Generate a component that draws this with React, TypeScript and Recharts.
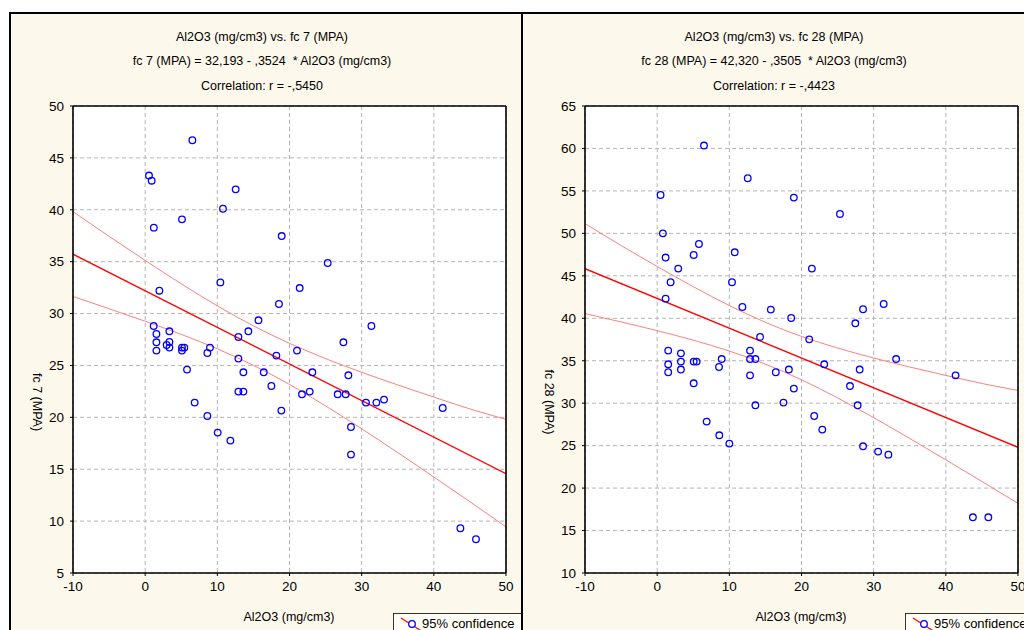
import React from 'react';
import { ComposedChart, XAxis, YAxis, CartesianGrid, Scatter, Line } from 'recharts';

const xTicks = [-10, 0, 10, 20, 30, 40, 50];
const fc7Ticks = [5, 10, 15, 20, 25, 30, 35, 40, 45, 50];
const fc28Ticks = [10, 15, 20, 25, 30, 35, 40, 45, 50, 55, 60, 65];

const al2o3Fc7 = [0.53, 0.9, 1.2, 1.18, 1.56, 1.56, 1.56, 1.97, 2.98, 3.36, 3.36, 3.36, 5.1, 5.1, 5.1, 5.43, 5.8, 6.54, 6.86, 8.62, 8.62, 8.98, 10.05, 10.42, 10.78, 11.81, 12.54, 12.92, 12.92, 12.92, 13.61, 13.61, 14.3, 15.7, 16.43, 17.49, 18.18, 18.54, 18.92, 18.87, 21.04, 21.41, 21.73, 22.8, 23.17, 25.29, 26.68, 27.47, 27.79, 28.16, 28.52, 28.52, 30.6, 31.35, 32.04, 33.1, 41.23, 43.68, 45.84];
const fc7 = [43.3, 42.8, 38.28, 28.8, 28.03, 27.23, 26.43, 32.2, 26.97, 28.29, 27.26, 26.72, 39.08, 26.72, 26.43, 26.72, 24.6, 46.7, 21.42, 26.2, 20.13, 26.72, 18.53, 33.0, 40.1, 17.76, 41.97, 27.74, 25.66, 22.48, 24.34, 22.48, 28.29, 29.35, 24.34, 23.02, 25.95, 30.92, 37.47, 20.65, 26.43, 32.46, 22.22, 22.48, 24.34, 34.87, 22.22, 27.23, 22.22, 24.05, 19.07, 16.41, 21.42, 28.8, 21.42, 21.71, 20.9, 9.31, 8.25];

const al2o3Fc28 = [0.47, 0.79, 1.17, 1.17, 1.53, 1.53, 1.53, 1.86, 2.92, 3.29, 3.29, 3.29, 5.06, 5.06, 5.06, 5.47, 5.79, 6.49, 6.86, 8.57, 8.61, 8.94, 10.0, 10.37, 10.75, 11.81, 12.55, 12.87, 12.87, 12.87, 13.61, 13.61, 14.26, 15.75, 16.44, 17.5, 18.25, 18.57, 18.94, 18.94, 21.07, 21.44, 21.76, 22.88, 23.15, 25.33, 26.72, 27.46, 27.78, 28.06, 28.53, 28.53, 30.61, 31.39, 32.04, 33.11, 41.35, 43.75, 45.89];
const fc28 = [54.52, 50.0, 47.15, 42.31, 36.19, 34.58, 33.64, 44.24, 45.85, 35.87, 34.9, 33.96, 47.45, 34.9, 32.34, 34.9, 48.75, 60.34, 27.83, 34.26, 26.22, 35.2, 25.24, 44.24, 47.77, 41.33, 56.49, 36.19, 35.2, 33.28, 35.2, 29.75, 37.8, 41.02, 33.64, 30.07, 33.96, 40.03, 54.21, 31.72, 37.52, 45.85, 28.49, 26.89, 34.58, 52.28, 32.02, 39.41, 29.75, 33.96, 41.06, 24.92, 24.3, 41.68, 23.94, 35.2, 33.28, 16.56, 16.56];

const fitX = [-10, 50];
const fc7Fit = [35.72, 14.57];
const fc28Fit = [45.83, 24.8];

const bandX = [-10, -5, 0, 5, 10, 15, 20, 25, 30, 35, 40, 45, 50];
const fc7Upper = [39.82, 37.44, 35.12, 32.87, 30.74, 28.81, 27.13, 25.66, 24.34, 23.12, 21.95, 20.81, 19.8];
const fc7Lower = [31.65, 30.46, 29.26, 27.99, 26.6, 25.01, 23.17, 21.1, 18.9, 16.6, 14.25, 11.87, 9.45];
const fc28Upper = [51.15, 48.57, 46.1, 43.72, 41.5, 39.52, 37.86, 36.5, 35.32, 34.26, 33.27, 32.32, 31.5];
const fc28Lower = [40.55, 39.57, 38.54, 37.42, 36.14, 34.6, 32.76, 30.62, 28.3, 25.84, 23.33, 20.78, 18.2];

const FONT = '"Liberation Sans", Arial, sans-serif';

const zip = (xs: number[], ys: number[]) => xs.map((x, i) => ({ x, y: ys[i] }));

const Dot = (props: any) => {
  const { cx, cy } = props;
  if (cx == null || cy == null) return <g />;
  return <circle cx={cx} cy={cy} r={3.3} fill="none" stroke="#0000ff" strokeWidth={1.3} />;
};

type PanelProps = {
  left: number;
  titles: string[];
  yLabel: string;
  xs: number[];
  ys: number[];
  fit: number[];
  upper: number[];
  lower: number[];
  yDomain: [number, number];
  yTicks: number[];
};

function Panel({ left, titles, yLabel, xs, ys, fit, upper, lower, yDomain, yTicks }: PanelProps) {
  const pts = zip(xs, ys);
  const fitData = zip(fitX, fit);
  const upData = zip(bandX, upper);
  const loData = zip(bandX, lower);
  const tickStyle = { fontSize: 13.5, fill: '#000', fontFamily: FONT };
  const titleTops = [15, 39, 64];
  return (
    <div
      style={{
        position: 'absolute',
        left,
        top: 12,
        width: 510,
        height: 640,
        border: '2px solid #000',
        background: '#fdf8ec',
        overflow: 'hidden',
        fontFamily: FONT,
      }}
    >
      {titles.map((t, i) => (
        <div
          key={i}
          style={{
            position: 'absolute',
            left: 51,
            width: 400,
            top: titleTops[i],
            lineHeight: '16px',
            fontSize: 12.5,
            textAlign: 'center',
            whiteSpace: 'pre',
            color: '#000',
          }}
        >
          {t}
        </div>
      ))}
      <div style={{ position: 'absolute', left: 0, top: 0 }}>
        <ComposedChart width={510} height={630} margin={{ top: 91, right: 14, bottom: 41, left: 0 }}>
          <CartesianGrid stroke="#b5b5b5" strokeDasharray="4 3" fill="#ffffff" fillOpacity={1} />
          <XAxis
            type="number"
            dataKey="x"
            domain={[-10, 50]}
            ticks={xTicks}
            interval={0}
            allowDataOverflow
            height={30}
            tickSize={3}
            tickMargin={5}
            axisLine={{ stroke: '#000', strokeWidth: 1.6 }}
            tickLine={{ stroke: '#000' }}
            tick={tickStyle}
          />
          <XAxis
            xAxisId="t"
            orientation="top"
            type="number"
            dataKey="x"
            domain={[-10, 50]}
            ticks={xTicks}
            interval={0}
            allowDataOverflow
            height={1}
            tickSize={3}
            axisLine={{ stroke: '#000', strokeWidth: 1.6 }}
            tickLine={{ stroke: '#000' }}
            tick={false}
          />
          <YAxis
            type="number"
            dataKey="y"
            domain={yDomain}
            ticks={yTicks}
            interval={0}
            allowDataOverflow
            width={62}
            tickSize={3}
            tickMargin={6}
            axisLine={{ stroke: '#000', strokeWidth: 1.6 }}
            tickLine={{ stroke: '#000' }}
            tick={tickStyle}
          />
          <YAxis
            yAxisId="r"
            orientation="right"
            type="number"
            dataKey="y"
            domain={yDomain}
            ticks={yTicks}
            interval={0}
            allowDataOverflow
            width={1}
            tickSize={3}
            axisLine={{ stroke: '#000', strokeWidth: 1.6 }}
            tickLine={{ stroke: '#000' }}
            tick={false}
          />
          <Line data={upData} dataKey="y" type="monotone" stroke="#ff7f7f" strokeWidth={1} dot={false} isAnimationActive={false} />
          <Line data={loData} dataKey="y" type="monotone" stroke="#ff7f7f" strokeWidth={1} dot={false} isAnimationActive={false} />
          <Line data={fitData} dataKey="y" type="linear" stroke="#ff0000" strokeWidth={1.4} dot={false} isAnimationActive={false} />
          <Scatter data={pts} dataKey="y" shape={Dot} isAnimationActive={false} />
        </ComposedChart>
      </div>
      <div
        style={{
          position: 'absolute',
          left: 26,
          top: 388,
          transform: 'translate(-50%, -50%) rotate(90deg)',
          whiteSpace: 'nowrap',
          fontSize: 12.5,
          color: '#000',
        }}
      >
        {yLabel}
      </div>
      <div
        style={{
          position: 'absolute',
          left: 278,
          top: 603,
          transform: 'translate(-50%, -50%)',
          whiteSpace: 'nowrap',
          fontSize: 12.5,
          color: '#000',
        }}
      >
        Al2O3 (mg/cm3)
      </div>
      <div
        style={{
          position: 'absolute',
          left: 382,
          top: 599,
          width: 160,
          height: 30,
          border: '1px solid #333',
          background: '#fffdf6',
        }}
      >
        <svg width={26} height={20} style={{ position: 'absolute', left: 5, top: 2 }}>
          <line x1={2} y1={2} x2={24} y2={16} stroke="#ff0000" strokeWidth={1.2} />
          <circle cx={13} cy={8} r={3.3} fill="#fffdf6" stroke="#0000ff" strokeWidth={1.3} />
        </svg>
        <div style={{ position: 'absolute', left: 28, top: 2, fontSize: 13, lineHeight: '16px', whiteSpace: 'nowrap', color: '#000' }}>
          95% confidence
        </div>
      </div>
    </div>
  );
}

export default function App() {
  return (
    <div style={{ position: 'absolute', left: 0, top: 0, width: 1024, height: 630, background: '#fff', overflow: 'hidden' }}>
      <Panel
        left={9}
        titles={['Al2O3 (mg/cm3) vs. fc 7 (MPA)', 'fc 7 (MPA) = 32,193 - ,3524  * Al2O3 (mg/cm3)', 'Correlation: r = -,5450']}
        yLabel="fc 7 (MPA)"
        xs={al2o3Fc7}
        ys={fc7}
        fit={fc7Fit}
        upper={fc7Upper}
        lower={fc7Lower}
        yDomain={[5, 50]}
        yTicks={fc7Ticks}
      />
      <Panel
        left={521}
        titles={['Al2O3 (mg/cm3) vs. fc 28 (MPA)', 'fc 28 (MPA) = 42,320 - ,3505  * Al2O3 (mg/cm3)', 'Correlation: r = -,4423']}
        yLabel="fc 28 (MPA)"
        xs={al2o3Fc28}
        ys={fc28}
        fit={fc28Fit}
        upper={fc28Upper}
        lower={fc28Lower}
        yDomain={[10, 65]}
        yTicks={fc28Ticks}
      />
    </div>
  );
}
